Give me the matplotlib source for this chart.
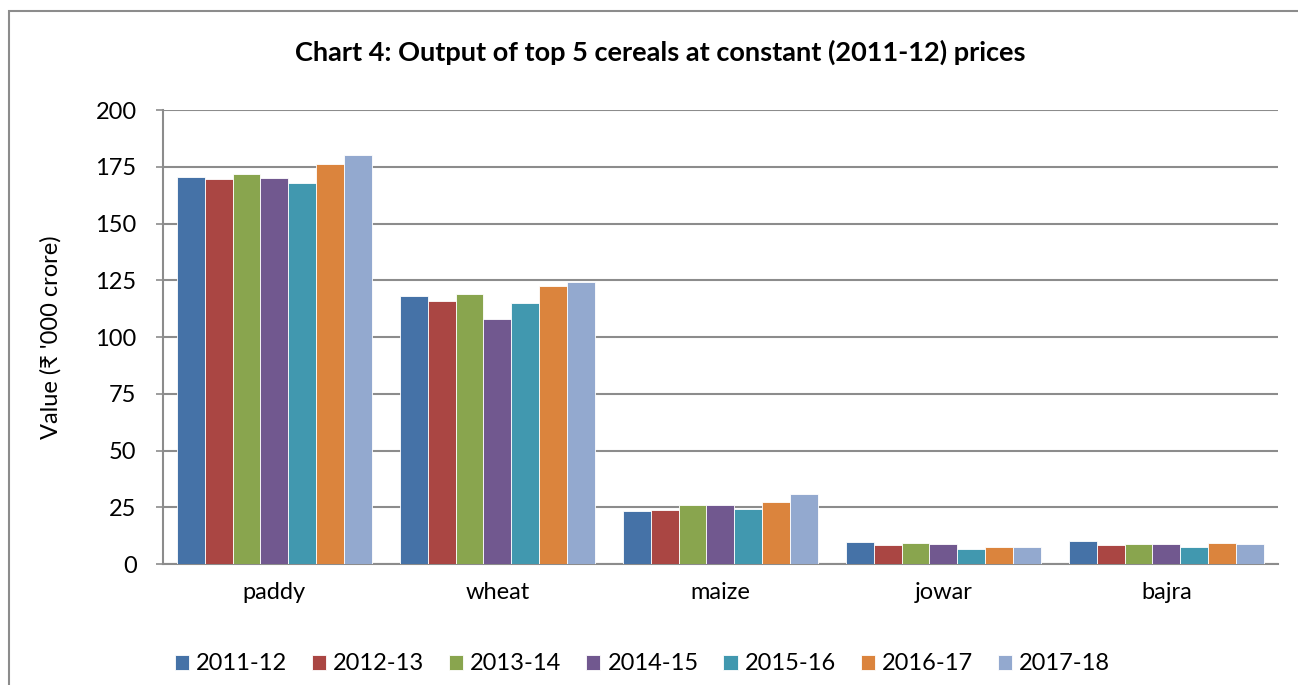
import matplotlib
matplotlib.use("Agg")
import matplotlib.pyplot as plt
import matplotlib.patches as mpatches
import numpy as np

categories = ["paddy", "wheat", "maize", "jowar", "bajra"]
years = ["2011-12", "2012-13", "2013-14", "2014-15", "2015-16", "2016-17", "2017-18"]
values = {
    "2011-12": [170.5, 118.1, 23.5, 9.7, 10.0],
    "2012-13": [169.6, 115.9, 23.8, 8.5, 8.3],
    "2013-14": [171.9, 118.8, 26.2, 9.1, 8.8],
    "2014-15": [170.2, 107.8, 25.8, 8.8, 8.7],
    "2015-16": [167.8, 114.9, 24.1, 6.6, 7.5],
    "2016-17": [176.0, 122.5, 27.5, 7.3, 9.2],
    "2017-18": [180.1, 124.4, 31.0, 7.6, 8.7],
}
colors = ["#4572A7", "#AA4643", "#89A54E", "#71588F", "#4198AF", "#DB843D", "#93A9CF"]
yticks = [0, 25, 50, 75, 100, 125, 150, 175, 200]

FONT = ["Lato", "DejaVu Sans"]
plt.rcParams["font.family"] = FONT

fig = plt.figure(figsize=(12.98, 6.85), dpi=100)
ax = fig.add_axes([0.1255, 0.1766, 0.8590, 0.6628])

# outer chart border (extends past right and bottom edges)
fig.patches.append(mpatches.Rectangle((9 / 1298, -0.05), 1.2, 1 - 11 / 685 + 0.05,
                                      transform=fig.transFigure, fill=False,
                                      edgecolor="#8c8c8c", linewidth=1.5, zorder=0))

n = len(years)
group_w = 0.875
bw = group_w / n
x = np.arange(len(categories))
for i, yr in enumerate(years):
    ax.bar(x - group_w / 2 + bw * (i + 0.5), values[yr], width=bw, color=colors[i],
           edgecolor="white", linewidth=0.6, label=yr, zorder=3)

ax.set_xlim(-0.5, len(categories) - 0.5)
ax.set_ylim(0, 200)
ax.set_yticks(yticks)
ax.set_yticklabels([str(t) for t in yticks], fontsize=17)
ax.set_xticks(x)
ax.set_xticklabels(categories, fontsize=17)
ax.tick_params(axis="x", length=0, pad=13)
ax.tick_params(axis="y", length=5, width=1.2, color="#8c8c8c", pad=14)
ax.yaxis.grid(True, color="#8c8c8c", linewidth=1.5, zorder=0)
ax.set_axisbelow(True)
for s in ["top", "right"]:
    ax.spines[s].set_visible(False)
for s in ["left", "bottom"]:
    ax.spines[s].set_color("#8c8c8c")
    ax.spines[s].set_linewidth(1.5)

ax.set_ylabel("Value (₹ '000 crore)", fontsize=17, labelpad=24)

fig.text(0.509, 0.924, "Chart 4: Output of top 5 cereals at constant (2011-12) prices",
         ha="center", va="center", fontsize=19.5, fontweight="bold")

ax.legend(loc="upper center", bbox_to_anchor=(0.43, -0.15), ncol=7, frameon=False,
          fontsize=17, handlelength=0.6, handleheight=0.6, handletextpad=0.3,
          columnspacing=1.05)

fig.savefig("out.png", dpi=100)
